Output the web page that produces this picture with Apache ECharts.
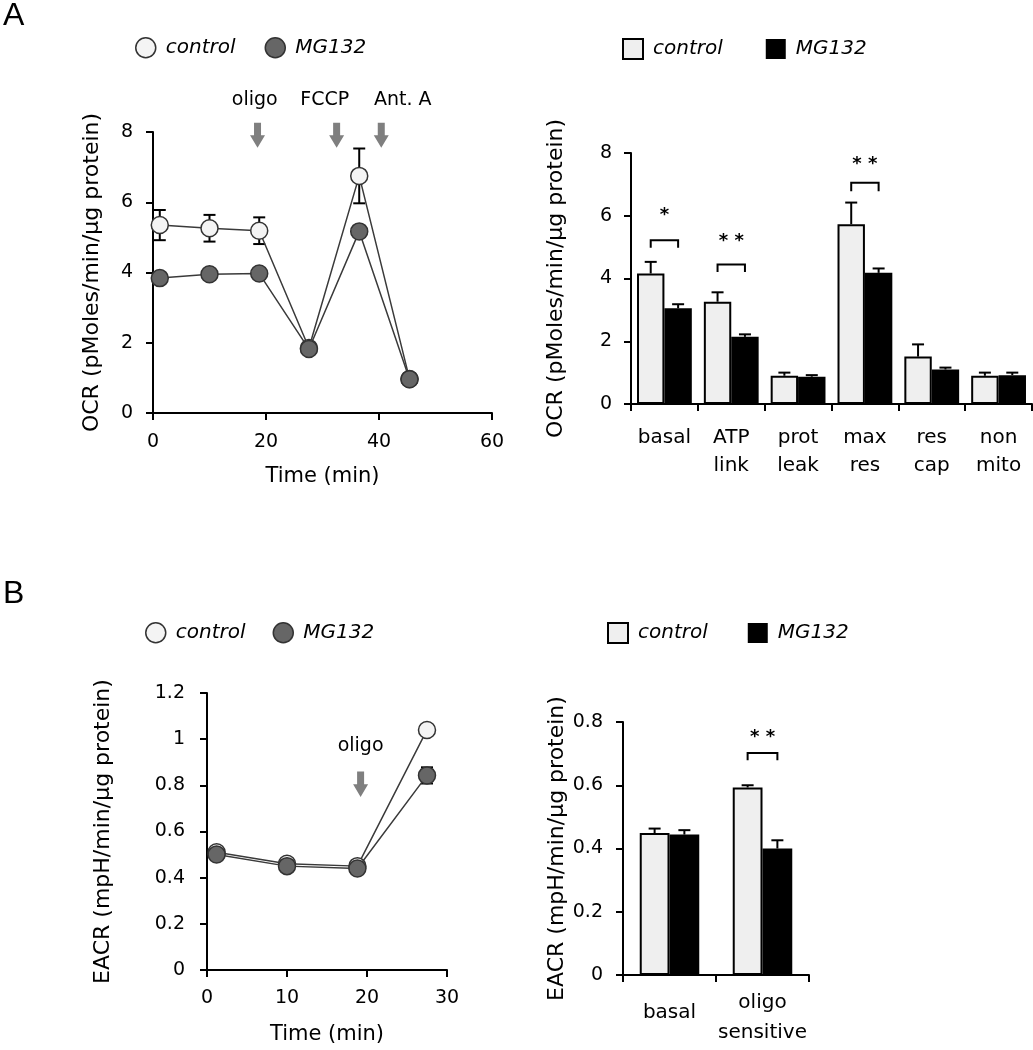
<!DOCTYPE html>
<html>
	<head>
		<meta charset="utf-8">
		<title>OCR / EACR</title>
		<script src="https://cdn.jsdelivr.net/npm/echarts@6/dist/echarts.min.js"></script>
		<style>
			html, body {
				margin: 0;
				padding: 0;
				background: #fff;
			}

			#main {
				width: 1033px;
				height: 1050px;
			}
		</style>
	</head>
	<body>
		<div id="main"></div>
		<script>
			// A: OCR time course
			var timeA = [1.2, 10, 18.8, 27.6, 36.5, 45.4];
			var ocrControl = [5.35, 5.26, 5.19, 1.85, 6.75, 0.97];
			var ocrControlErr = [0.43, 0.38, 0.38, 0.1, 0.78, 0.05];
			var ocrMG = [3.84, 3.95, 3.97, 1.82, 5.17, 0.96];
			var ocrMGErr = [0.1, 0.08, 0.08, 0.1, 0.15, 0.05];
			var injectA = ['oligo', 'FCCP', 'Ant. A'];
			var injectTimeA = [18.5, 32.5, 40.4];
			var injectLabelTimeA = [18, 30.4, 44.2];

			// A: OCR parameters
			var ocrCats = ['basal', 'ATP\nlink', 'prot\nleak', 'max\nres', 'res\ncap', 'non\nmito'];
			var ocrBarControl = [4.16, 3.26, 0.9, 5.73, 1.51, 0.9];
			var ocrBarControlErr = [0.37, 0.3, 0.1, 0.69, 0.39, 0.1];
			var ocrBarMG = [3.05, 2.14, 0.87, 4.18, 1.1, 0.92];
			var ocrBarMGErr = [0.13, 0.08, 0.05, 0.14, 0.06, 0.08];
			var sigCatA = [0, 1, 3];
			var sigTopA = [5.22, 4.45, 7.05];
			var sigLegA = [4.98, 4.21, 6.78];
			var sigStarA = [6.15, 5.3, 7.78];
			var sigTextA = ['*', '* *', '* *'];

			// B: EACR time course
			var timeB = [1.2, 10, 18.8, 27.5];
			var ecarControl = [0.51, 0.46, 0.45, 1.04];
			var ecarControlErr = [0.02, 0.02, 0.01, 0.01];
			var ecarMG = [0.5, 0.45, 0.44, 0.843];
			var ecarMGErr = [0.02, 0.02, 0.01, 0.035];
			var injectB = ['oligo'];
			var injectTimeB = [19.2];
			var injectLabelTimeB = [19.2];

			// B: EACR parameters
			var ecarCats = ['basal', 'oligo\nsensitive'];
			var ecarBarControl = [0.449, 0.593];
			var ecarBarControlErr = [0.014, 0.007];
			var ecarBarMG = [0.444, 0.4];
			var ecarBarMGErr = [0.014, 0.026];
			var sigCatB = [1];
			var sigTopB = [0.702];
			var sigLegB = [0.679];
			var sigStarB = [0.765];
			var sigTextB = ['* *'];

			var FONT = 'DejaVu Sans';
			var LIGHT = '#efefef';
			var DARK = '#666666';

			function zip3(a, b, c) {
				var out = [];
				for (var i = 0; i < a.length; i++) {
					out.push([a[i], b[i], c[i]]);
				}
				return out;
			}

			function blackLine(x1, y1, x2, y2) {
				return {
					type: 'line',
					shape: { x1: x1, y1: y1, x2: x2, y2: y2 },
					style: { stroke: '#000', lineWidth: 2 }
				};
			}

			// error bars of the time courses (both directions)
			function lineErr(params, api) {
				var x = api.value(0), y = api.value(1), e = api.value(2);
				var lo = api.coord([x, y - e]);
				var hi = api.coord([x, y + e]);
				var w = 6;
				return {
					type: 'group',
					children: [
						blackLine(lo[0], lo[1], hi[0], hi[1]),
						blackLine(hi[0] - w, hi[1], hi[0] + w, hi[1]),
						blackLine(lo[0] - w, lo[1], lo[0] + w, lo[1])
					]
				};
			}

			// error bars of the bar charts (upward only)
			function barErr(side, gap) {
				return function(params, api) {
					var i = api.value(0), v = api.value(1), e = api.value(2);
					var base = api.coord([i, v]);
					var top = api.coord([i, v + e]);
					var bw = api.size([1, 0])[0] * (1 - gap) / 2;
					var x = base[0] + side * bw / 2;
					return {
						type: 'group',
						children: [
							blackLine(x, base[1], x, top[1]),
							blackLine(x - 6, top[1], x + 6, top[1])
						]
					};
				};
			}

			// significance bracket + stars
			function bracket(texts, gap) {
				return function(params, api) {
					var i = api.value(0);
					var t = api.coord([i, api.value(1)]);
					var l = api.coord([i, api.value(2)]);
					var s = api.coord([i, api.value(3)]);
					var bw = api.size([1, 0])[0] * (1 - gap) / 2;
					var x1 = t[0] - bw / 2, x2 = t[0] + bw / 2;
					return {
						type: 'group',
						children: [{
							type: 'polyline',
							shape: { points: [[x1, l[1]], [x1, t[1]], [x2, t[1]], [x2, l[1]]] },
							style: { stroke: '#000', lineWidth: 2, fill: null }
						}, {
							type: 'text',
							x: t[0],
							y: s[1] + 4,
							style: {
								text: texts[params.dataIndex],
								fontSize: 18,
								fontFamily: FONT,
								fontWeight: 'bold',
								fill: '#000',
								align: 'center',
								verticalAlign: 'middle',
								textAlign: 'center',
								textVerticalAlign: 'middle'
							}
						}]
					};
				};
			}

			// injection arrows
			function arrows(texts) {
				return function(params, api) {
					var t = api.coord([api.value(0), api.value(2)]);
					var b = api.coord([api.value(0), api.value(3)]);
					var lab = api.coord([api.value(1), api.value(4)]);
					var x = t[0];
					var hh = (b[1] - t[1]) * 0.5;
					return {
						type: 'group',
						children: [{
							type: 'polygon',
							shape: {
								points: [
									[x - 3.5, t[1]], [x + 3.5, t[1]], [x + 3.5, b[1] - hh], [x + 7.5, b[1] - hh],
									[x, b[1]], [x - 7.5, b[1] - hh], [x - 3.5, b[1] - hh]
								]
							},
							style: { fill: '#7f7f7f' }
						}, {
							type: 'text',
							x: lab[0],
							y: lab[1],
							style: {
								text: texts[params.dataIndex],
								fontSize: 19,
								fontFamily: FONT,
								fill: '#000',
								align: 'center',
								verticalAlign: 'middle',
								textAlign: 'center',
								textVerticalAlign: 'middle'
							}
						}]
					};
				};
			}

			function axisBase(gridIndex) {
				return {
					gridIndex: gridIndex,
					axisLine: { show: true, lineStyle: { color: '#000', width: 2 } },
					axisTick: { show: true, inside: false, length: 7, lineStyle: { color: '#000', width: 2 } },
					splitLine: { show: false },
					nameLocation: 'middle',
					nameTextStyle: { fontSize: 22, color: '#000', fontFamily: FONT }
				};
			}

			function valueAxis(gridIndex, min, max, interval, name, nameGap, margin) {
				var ax = axisBase(gridIndex);
				ax.type = 'value';
				ax.min = min;
				ax.max = max;
				ax.interval = interval;
				ax.name = name;
				ax.nameGap = nameGap;
				ax.axisLabel = { fontSize: 19, color: '#000', fontFamily: FONT, margin: margin };
				return ax;
			}

			function catAxis(gridIndex, cats, margin, lineHeight, formatter) {
				var ax = axisBase(gridIndex);
				ax.type = 'category';
				ax.data = cats;
				ax.axisTick.alignWithLabel = false;
				ax.axisLabel = {
					fontSize: 20,
					color: '#000',
					fontFamily: FONT,
					margin: margin,
					lineHeight: lineHeight,
					interval: 0,
					formatter: formatter,
					rich: { low: { fontSize: 20, fontFamily: FONT, color: '#000', lineHeight: 50 } }
				};
				return ax;
			}

			function legendItems(shape) {
				if (shape == 'circle') {
					return [{
						name: 'control', icon: 'circle',
						itemStyle: { color: '#f4f4f4', borderColor: '#333', borderWidth: 1.5 }
					}, {
						name: 'MG132', icon: 'circle',
						itemStyle: { color: DARK, borderColor: '#333', borderWidth: 1.5 }
					}];
				}
				return [{
					name: 'control', icon: 'rect',
					itemStyle: { color: LIGHT, borderColor: '#000', borderWidth: 2 }
				}, {
					name: 'MG132', icon: 'rect',
					itemStyle: { color: '#000', borderColor: '#000', borderWidth: 0 }
				}];
			}

			function legend(left, top, gap, shape) {
				return {
					left: left,
					top: top,
					padding: 0,
					itemWidth: 20,
					itemHeight: 20,
					itemGap: gap,
					selectedMode: false,
					textStyle: { fontSize: 20, fontStyle: 'italic', color: '#000', fontFamily: FONT, padding: [0, 0, 0, 5] },
					data: legendItems(shape)
				};
			}

			function lineSeries(name, xi, times, vals, fill, z) {
				var data = [];
				for (var i = 0; i < times.length; i++) {
					data.push([times[i], vals[i]]);
				}
				return {
					name: name,
					type: 'line',
					xAxisIndex: xi,
					yAxisIndex: xi,
					data: data,
					symbol: 'circle',
					symbolSize: 17,
					z: z,
					itemStyle: { color: fill, borderColor: '#333', borderWidth: 1.5 },
					lineStyle: { color: '#3a3a3a', width: 1.5 },
					emphasis: { disabled: true }
				};
			}

			function barSeries(name, xi, vals, fill, gap) {
				return {
					name: name,
					type: 'bar',
					xAxisIndex: xi,
					yAxisIndex: xi,
					data: vals,
					barGap: 0,
					barCategoryGap: gap,
					itemStyle: { color: fill, borderColor: '#000', borderWidth: 2 },
					emphasis: { disabled: true }
				};
			}

			function customSeries(xi, data, render, z) {
				return {
					type: 'custom',
					xAxisIndex: xi,
					yAxisIndex: xi,
					data: data,
					renderItem: render,
					clip: false,
					silent: true,
					z: z
				};
			}

			function injectData(times, labelTimes, yTop, yBot, yLab) {
				var out = [];
				for (var i = 0; i < times.length; i++) {
					out.push([times[i], labelTimes[i], yTop, yBot, yLab]);
				}
				return out;
			}

			function sigData(cats, tops, legs, stars) {
				var out = [];
				for (var i = 0; i < cats.length; i++) {
					out.push([cats[i], tops[i], legs[i], stars[i]]);
				}
				return out;
			}

			function barErrData(vals, errs) {
				var out = [];
				for (var i = 0; i < vals.length; i++) {
					out.push([i, vals[i], errs[i]]);
				}
				return out;
			}

			var GAP_A = 0.18, GAP_B = 0.36;

			var chart = echarts.init(document.getElementById('main'));
			var option = {
				animation: false,
				textStyle: { fontFamily: FONT },
				grid: [
					{ left: 153, top: 132, width: 339, height: 281, outerBoundsMode: 'none' },
					{ left: 631, top: 153, width: 401, height: 251, outerBoundsMode: 'none' },
					{ left: 207, top: 693, width: 240, height: 277, outerBoundsMode: 'none' },
					{ left: 623, top: 722, width: 186, height: 253, outerBoundsMode: 'none' }
				],
				xAxis: [
					(function() {
						var ax = valueAxis(0, 0, 60, 20, 'Time (min)', 53, 20);
						ax.nameTextStyle.fontSize = 21;
						return ax;
					})(),
					catAxis(1, ocrCats, 20, 28),
					(function() {
						var ax = valueAxis(2, 0, 30, 10, 'Time (min)', 54, 19);
						ax.nameTextStyle.fontSize = 21;
						return ax;
					})(),
					catAxis(3, ecarCats, 13, 30, function(v) {
						return v.indexOf('\n') < 0 ? '{low|' + v + '}' : v;
					})
				],
				yAxis: [
					valueAxis(0, 0, 8, 2, 'OCR (pMoles/min/\u03bcg protein)', 50, 20),
					valueAxis(1, 0, 8, 2, 'OCR (pMoles/min/\u03bcg protein)', 64, 19),
					valueAxis(2, 0, 1.2, 0.2, 'EACR (mpH/min/\u03bcg protein)', 93, 22),
					valueAxis(3, 0, 0.8, 0.2, 'EACR (mpH/min/\u03bcg protein)', 55, 20)
				],
				legend: [
					legend(135, 37, 29, 'circle'),
					legend(622, 38, 43, 'rect'),
					legend(145, 622, 27, 'circle'),
					legend(607, 622, 40, 'rect')
				],
				graphic: [{
					type: 'text',
					left: 3,
					top: 0,
					style: { text: 'A', fontSize: 32, fontFamily: 'Liberation Sans', fill: '#000' }
				}, {
					type: 'text',
					left: 3,
					top: 578,
					style: { text: 'B', fontSize: 32, fontFamily: 'Liberation Sans', fill: '#000' }
				}],
				series: [
					// A time course
					customSeries(0, zip3(timeA, ocrControl, ocrControlErr), lineErr, 1),
					customSeries(0, zip3(timeA, ocrMG, ocrMGErr), lineErr, 1),
					lineSeries('control', 0, timeA, ocrControl, '#f4f4f4', 3),
					lineSeries('MG132', 0, timeA, ocrMG, DARK, 4),
					customSeries(0, injectData(injectTimeA, injectLabelTimeA, 8.26, 7.55, 8.9), arrows(injectA), 5),
					// A parameters
					barSeries('control', 1, ocrBarControl, LIGHT, '18%'),
					barSeries('MG132', 1, ocrBarMG, '#000', '18%'),
					customSeries(1, barErrData(ocrBarControl, ocrBarControlErr), barErr(-1, GAP_A), 3),
					customSeries(1, barErrData(ocrBarMG, ocrBarMGErr), barErr(1, GAP_A), 3),
					customSeries(1, sigData(sigCatA, sigTopA, sigLegA, sigStarA), bracket(sigTextA, GAP_A), 3),
					// B time course
					customSeries(2, zip3(timeB, ecarControl, ecarControlErr), lineErr, 1),
					customSeries(2, zip3(timeB, ecarMG, ecarMGErr), lineErr, 1),
					lineSeries('control', 2, timeB, ecarControl, '#f4f4f4', 3),
					lineSeries('MG132', 2, timeB, ecarMG, DARK, 4),
					customSeries(2, injectData(injectTimeB, injectLabelTimeB, 0.86, 0.75, 0.968), arrows(injectB), 5),
					// B parameters
					barSeries('control', 3, ecarBarControl, LIGHT, '36%'),
					barSeries('MG132', 3, ecarBarMG, '#000', '36%'),
					customSeries(3, barErrData(ecarBarControl, ecarBarControlErr), barErr(-1, GAP_B), 3),
					customSeries(3, barErrData(ecarBarMG, ecarBarMGErr), barErr(1, GAP_B), 3),
					customSeries(3, sigData(sigCatB, sigTopB, sigLegB, sigStarB), bracket(sigTextB, GAP_B), 3)
				]
			};
			chart.setOption(option);
		</script>
	</body>
</html>
